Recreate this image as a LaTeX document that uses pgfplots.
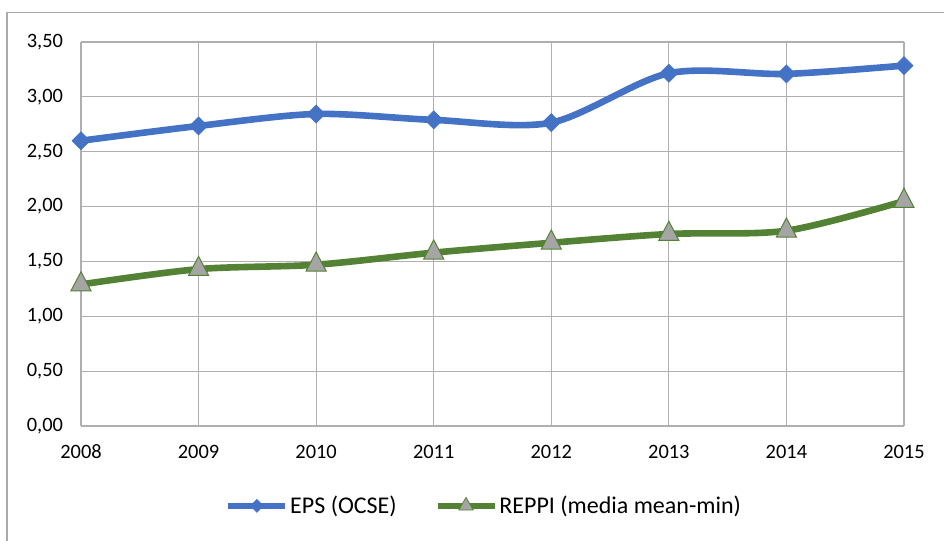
\documentclass[border=0pt]{standalone}
\usepackage{pgfplots}
\pgfplotsset{compat=1.18}
\usepackage{fontspec}
\setmainfont{Carlito}
\definecolor{epsblue}{RGB}{68,114,196}
\definecolor{reppigreen}{RGB}{84,130,53}
\definecolor{markgray}{RGB}{165,165,165}
\definecolor{gridgray}{RGB}{175,175,175}
\definecolor{framegray}{RGB}{170,170,170}
\begin{document}
\begin{tikzpicture}
\path[use as bounding box] (-40.5pt,-57.5pt) rectangle (431.5pt,213pt);
\draw[framegray, line width=0.7pt] (-37pt,-60pt) -- (-37pt,206.7pt) -- (440pt,206.7pt);
\begin{axis}[
  at={(0pt,0pt)}, anchor=south west,
  scale only axis, width=411.5pt, height=192pt,
  xmin=0, xmax=7, ymin=0, ymax=3.5,
  xtick={0,1,2,3,4,5,6,7},
  xticklabels={2008,2009,2010,2011,2012,2013,2014,2015},
  ytick={0,0.5,1,1.5,2,2.5,3,3.5},
  major tick length=0pt,
  axis line style={draw=none},
  grid=major,
  major grid style={draw=gridgray, line width=0.6pt},
  /pgf/number format/assume math mode=true,
  yticklabel style={/pgf/number format/fixed, /pgf/number format/fixed zerofill,
    /pgf/number format/precision=2, /pgf/number format/use comma, xshift=-5.5pt},
  ticklabel style={font=\fontsize{10.2}{12}\selectfont, text=black},
  xticklabel style={yshift=-6pt},
  legend style={at={(0.49,-0.208)}, anchor=center, draw=none, fill=none,
    font=\fontsize{12}{14}\selectfont, legend columns=2,
    /tikz/every even column/.append style={column sep=18pt},
    inner sep=0pt, nodes={inner sep=1pt}},
  legend cell align=left,
  legend image code/.code={\draw[mark repeat=2, mark phase=2, #1] plot coordinates {(0pt,0pt) (14.25pt,0pt) (28.5pt,0pt)};},
  clip=false,
]
\addplot[epsblue, line width=3.3pt, smooth, tension=0.5, mark=square*, mark size=3.2pt,
  mark options={rotate=45, solid, fill=epsblue, draw=epsblue, line width=0.3pt}, forget plot]
  coordinates {(0,2.60) (1,2.735) (2,2.844) (3,2.79) (4,2.765) (5,3.215) (6,3.209) (7,3.285)};
\addplot[reppigreen, line width=3.3pt, smooth, tension=0.5, mark=triangle*, mark size=5.8pt,
  mark options={solid, fill=markgray, draw=reppigreen, line width=0.5pt, yscale=1.1}, forget plot]
  coordinates {(0,1.29) (1,1.43) (2,1.47) (3,1.58) (4,1.67) (5,1.75) (6,1.78) (7,2.05)};
\addlegendimage{epsblue, line width=2.8pt, mark=square*, mark size=2.3pt,
  mark options={rotate=45, solid, fill=epsblue, draw=epsblue, line width=0.3pt}}
\addlegendentry{EPS (OCSE)}
\addlegendimage{reppigreen, line width=2.8pt, mark=triangle*, mark size=4.2pt,
  mark options={solid, fill=markgray, draw=reppigreen, line width=0.4pt}}
\addlegendentry{REPPI (media mean-min)}
\end{axis}
\end{tikzpicture}
\end{document}
